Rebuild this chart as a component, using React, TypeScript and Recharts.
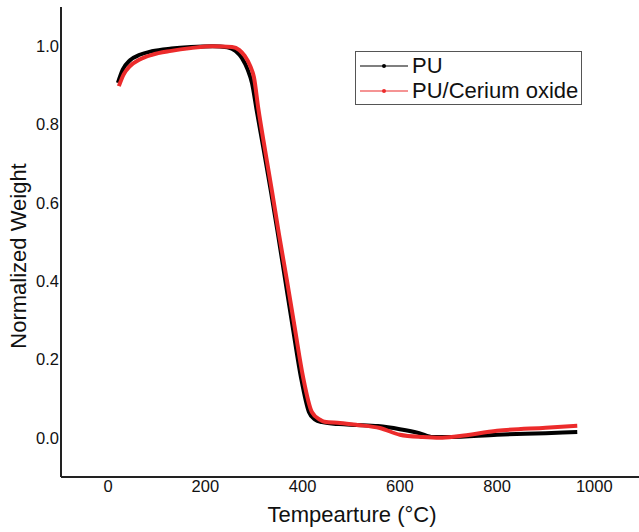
import React from 'react';
import { LineChart, Line, XAxis, YAxis, Legend } from 'recharts';

const puTemp = [20, 30, 45, 65, 90, 130, 170, 215, 245, 262, 275, 287, 296, 305, 320, 335, 348, 364, 380, 397, 413, 425, 440, 475, 510, 555, 600, 640, 668, 700, 800, 900, 965];
const puWeight = [0.906, 0.94, 0.964, 0.978, 0.987, 0.994, 0.998, 1.0, 0.997, 0.988, 0.97, 0.94, 0.905, 0.84, 0.735, 0.628, 0.53, 0.405, 0.28, 0.152, 0.066, 0.047, 0.04, 0.035, 0.033, 0.03, 0.022, 0.012, 0.002, 0.002, 0.008, 0.012, 0.015];

const ceTemp = [22, 32, 45, 65, 90, 130, 170, 215, 255, 270, 281, 292, 300, 309, 323, 337, 351, 368, 384, 401, 419, 436, 445, 477, 512, 559, 600, 647, 682, 720, 800, 900, 965];
const ceWeight = [0.898, 0.928, 0.949, 0.966, 0.978, 0.988, 0.995, 1.0, 0.998, 0.99, 0.975, 0.95, 0.92, 0.84, 0.733, 0.63, 0.523, 0.4, 0.28, 0.155, 0.066, 0.046, 0.041, 0.038, 0.033, 0.025, 0.008, 0.002, 0.0, 0.004, 0.018, 0.026, 0.031];

const xTicks = [0, 200, 400, 600, 800, 1000];
const yTicks = [0, 0.2, 0.4, 0.6, 0.8, 1.0];

const seriesNames = ['PU', 'PU/Cerium oxide'];
const xTitle = 'Tempearture (°C)';
const yTitle = 'Normalized Weight';

const puData = puTemp.map((t, i) => ({ t, w: puWeight[i] }));
const ceData = ceTemp.map((t, i) => ({ t, w: ceWeight[i] }));

const FONT = '"Liberation Sans", Arial, Helvetica, sans-serif';
const AXIS_COLOR = '#222';

const renderLegend = (props: any) => {
  const { payload } = props;
  return (
    <div
      style={{
        border: '1px solid #555',
        background: '#fff',
        padding: '1px 3px 1px 4px',
        fontFamily: FONT,
        fontSize: 22,
        color: '#111',
        whiteSpace: 'nowrap',
      }}
    >
      {(payload || []).map((entry: any, i: number) => (
        <div key={i} style={{ display: 'flex', alignItems: 'center', height: 25 }}>
          <svg width={48} height={10} style={{ display: 'block' }}>
            <line x1={0} y1={5} x2={48} y2={5} stroke={entry.color} strokeWidth={1.2} />
            <circle cx={24} cy={5} r={2} fill={entry.color} />
          </svg>
          <span style={{ marginLeft: 4, lineHeight: '25px' }}>{entry.value}</span>
        </div>
      ))}
    </div>
  );
};

const XTitle = (props: any) => {
  const vb = props.viewBox || {};
  return (
    <text
      x={vb.x + vb.width / 2 + 2}
      y={522}
      textAnchor="middle"
      fontFamily={FONT}
      fontSize={22}
      fill="#111"
    >
      {xTitle}
    </text>
  );
};

const YTitle = (props: any) => {
  const vb = props.viewBox || {};
  const cx = 26;
  const cy = vb.y + vb.height / 2 + 14;
  return (
    <text
      x={cx}
      y={cy}
      transform={`rotate(-90, ${cx}, ${cy})`}
      textAnchor="middle"
      fontFamily={FONT}
      fontSize={22}
      fill="#111"
    >
      {yTitle}
    </text>
  );
};

export default function App() {
  return (
    <div style={{ position: 'absolute', left: 0, top: 0, background: '#fff' }}>
      <LineChart width={639} height={532} margin={{ top: 7, right: 0, bottom: 0, left: 0 }}>
        <XAxis
          type="number"
          dataKey="t"
          domain={[-97, 1092]}
          ticks={xTicks}
          allowDataOverflow
          tickLine={false}
          tickSize={1}
          tickMargin={2}
          height={55}
          axisLine={{ stroke: AXIS_COLOR, strokeWidth: 2 }}
          tick={{ fill: '#111', fontSize: 16.5, fontFamily: FONT }}
          label={<XTitle />}
        />
        <YAxis
          type="number"
          dataKey="w"
          domain={[-0.1, 1.1]}
          ticks={yTicks}
          allowDataOverflow
          tickFormatter={(v: number) => v.toFixed(1)}
          tickLine={false}
          tickSize={1}
          tickMargin={1}
          width={61}
          axisLine={{ stroke: AXIS_COLOR, strokeWidth: 2 }}
          tick={{ fill: '#111', fontSize: 16.5, fontFamily: FONT }}
          label={<YTitle />}
        />
        <Legend
          layout="vertical"
          align="center"
          verticalAlign="middle"
          content={renderLegend}
          wrapperStyle={{ left: 355, top: 51, width: 'auto', height: 'auto' }}
        />
        <Line
          data={puData}
          dataKey="w"
          name={seriesNames[0]}
          type="monotone"
          stroke="#000000"
          strokeWidth={4}
          dot={false}
          activeDot={false}
          isAnimationActive={false}
        />
        <Line
          data={ceData}
          dataKey="w"
          name={seriesNames[1]}
          type="monotone"
          stroke="#ec2b2b"
          strokeWidth={4}
          dot={false}
          activeDot={false}
          isAnimationActive={false}
        />
      </LineChart>
    </div>
  );
}
